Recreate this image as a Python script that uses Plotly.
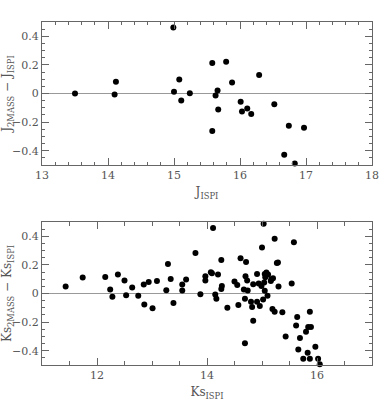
import plotly.graph_objects as go

# J band comparison
j_ispi = [13.50, 14.10, 14.12, 14.99, 15.00, 15.08, 15.11, 15.24, 15.58, 15.58,
          15.63, 15.66, 15.67, 15.79, 15.88, 16.01, 16.03, 16.11, 16.17, 16.29,
          16.52, 16.67, 16.74, 16.83, 16.97]
j_diff = [0.000, -0.007, 0.082, 0.461, 0.012, 0.098, -0.049, 0.002, 0.213, -0.262,
          -0.014, 0.021, -0.112, 0.222, 0.077, -0.058, -0.126, -0.105, -0.143, 0.129,
          -0.075, -0.428, -0.225, -0.489, -0.239]

# Ks band comparison
ks_ispi = [11.43, 11.74, 12.15, 12.24, 12.28, 12.38, 12.50, 12.53, 12.64, 12.75,
           12.85, 12.86, 12.94, 13.01, 13.09, 13.26, 13.29, 13.34, 13.39, 13.55,
           13.55, 13.62, 13.79, 13.88, 13.97, 13.97, 14.07, 14.09, 14.11, 14.15,
           14.17, 14.20, 14.26, 14.26, 14.27, 14.37, 14.50, 14.55, 14.57, 14.61,
           14.67, 14.69, 14.69, 14.70, 14.71, 14.73, 14.74, 14.80, 14.82, 14.84,
           14.84, 14.91, 14.91, 14.94, 14.96, 14.99, 15.00, 15.02, 15.03, 15.04,
           15.05, 15.05, 15.06, 15.08, 15.10, 15.11, 15.16, 15.17, 15.20, 15.19,
           15.23, 15.23, 15.27, 15.29, 15.30, 15.37, 15.43, 15.54, 15.58, 15.62,
           15.64, 15.66, 15.69, 15.75, 15.80, 15.83, 15.84, 15.87, 15.87, 15.89,
           15.97, 16.02, 16.05]
ks_diff = [0.049, 0.111, 0.116, 0.028, -0.023, 0.132, 0.090, -0.012, 0.042, -0.016,
           0.063, -0.077, 0.081, -0.104, 0.088, 0.023, 0.206, 0.102, -0.067, 0.063,
           0.021, 0.097, 0.283, -0.005, 0.121, 0.090, 0.148, 0.141, 0.457, -0.007,
           -0.037, 0.132, 0.234, 0.032, 0.053, -0.100, 0.083, 0.060, -0.081, 0.246,
           0.028, -0.037, -0.348, 0.121, 0.220, 0.090, 0.021, -0.058, -0.095, 0.065,
           -0.190, -0.058, 0.137, 0.070, -0.088, 0.053, 0.322, -0.042, 0.487, 0.077,
           0.019, 0.137, 0.114, 0.146, -0.016, 0.132, 0.088, 0.100, 0.107, -0.109,
           -0.128, 0.383, 0.213, 0.216, 0.049, -0.132, -0.301, 0.070, 0.359, -0.223,
           -0.165, -0.392, -0.311, -0.457, -0.267, -0.415, -0.234, -0.457, -0.128, -0.234,
           -0.373, -0.457, -0.494]

font_family = "DejaVu Serif"
axis_col = "#666666"
text_col = "#555555"

fig = go.Figure()

fig.add_trace(go.Scatter(x=j_ispi, y=j_diff, mode="markers",
                         marker=dict(color="black", size=6),
                         xaxis="x", yaxis="y", cliponaxis=False))
fig.add_trace(go.Scatter(x=ks_ispi, y=ks_diff, mode="markers",
                         marker=dict(color="black", size=6),
                         xaxis="x2", yaxis="y2", cliponaxis=False))

common = dict(showgrid=False, zeroline=False, showline=True, linecolor=axis_col,
              linewidth=1, mirror="allticks", ticks="inside", tickcolor=axis_col,
              ticklen=7, automargin=False,
              tickfont=dict(family=font_family, size=11, color=text_col))
title_font = dict(size=12, family=font_family, color=text_col)

fig.update_layout(
    width=392, height=409,
    margin=dict(l=42, r=20, t=22, b=44),
    plot_bgcolor="white", paper_bgcolor="white",
    showlegend=False,
    font=dict(family=font_family, color=text_col),
    xaxis=dict(domain=[0, 1], anchor="y", range=[13, 18], dtick=1, tick0=13,
               minor=dict(dtick=0.2, ticks="inside", ticklen=3, tickcolor=axis_col),
               title=dict(text="J<sub>ISPI</sub>", standoff=6, font=title_font),
               **common),
    yaxis=dict(domain=[0.583, 1.0], anchor="x", range=[-0.5, 0.5], dtick=0.2, tick0=0,
               minor=dict(dtick=0.05, ticks="inside", ticklen=3, tickcolor=axis_col),
               title=dict(text="J<sub>2MASS</sub> − J<sub>ISPI</sub>", standoff=2,
                          font=title_font),
               **common),
    xaxis2=dict(domain=[0, 1], anchor="y2", range=[11, 17], dtick=2, tick0=12,
                minor=dict(dtick=0.5, ticks="inside", ticklen=4, tickcolor=axis_col),
                title=dict(text="Ks<sub>ISPI</sub>", standoff=6, font=title_font),
                **common),
    yaxis2=dict(domain=[0, 0.417], anchor="x2", range=[-0.5, 0.5], dtick=0.2, tick0=0,
                minor=dict(dtick=0.05, ticks="inside", ticklen=3, tickcolor=axis_col),
                title=dict(text="Ks<sub>2MASS</sub> − Ks<sub>ISPI</sub>", standoff=2,
                           font=title_font),
                **common),
    shapes=[
        dict(type="line", xref="x domain", yref="y", x0=0, x1=1, y0=0, y1=0,
             line=dict(color="#999999", width=1.2), layer="below"),
        dict(type="line", xref="x2 domain", yref="y2", x0=0, x1=1, y0=0, y1=0,
             line=dict(color="#999999", width=1.2), layer="below"),
    ],
)

# ページの余白をなくす（スクロールバー防止）、モードバー非表示
fig.write_html("out.html",
               config={"displayModeBar": False},
               post_script="document.body.style.margin='0';"
                           "document.body.style.overflow='hidden';")
